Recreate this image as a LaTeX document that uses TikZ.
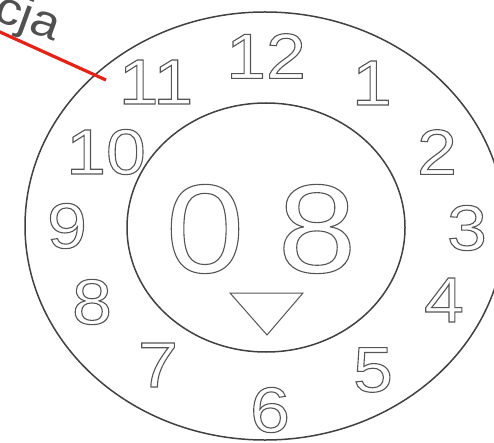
\documentclass[tikz,border=0pt]{standalone}
\usepackage{xcolor}
\usepackage{fontspec}
\usepackage{tikz}
\usetikzlibrary{positioning, calc}
\newfontfamily\dialfont[FakeStretch=1.12]{Liberation Sans}
\definecolor{dialline}{RGB}{65,65,65}
\definecolor{dialdigit}{RGB}{85,85,85}
\definecolor{labelgray}{RGB}{80,80,80}
\definecolor{leaderred}{RGB}{228,34,22}
\newcommand{\hollow}[1]{\special{pdf:literal direct 1 Tr 1.1 w}#1\special{pdf:literal direct 0 Tr}}
\tikzset{
  rim/.style={draw=dialline, line width=1.5pt},
  hour/.style={inner sep=0pt, color=dialdigit,
    font=\dialfont\fontsize{64}{64}\selectfont},
  bigdigit/.style={inner sep=0pt, color=dialdigit,
    font=\dialfont\fontsize{126}{126}\selectfont},
  marker/.style={draw=dialdigit, line width=1pt, line join=miter},
  leader/.style={line width=3.2pt, color=leaderred},
  callout/.style={inner sep=0pt, color=labelgray, rotate=-20,
    font=\dialfont\fontsize{46}{46}\selectfont}
}

\begin{document}
\begin{tikzpicture}[x=1pt, y=-1pt]
  \useasboundingbox (0,0) rectangle (494,443);
  \clip (0,0) rectangle (494,443);

  % Outer and inner rims of the dial
  \draw[rim] (265,226) ellipse [x radius=240, y radius=214];
  \draw[rim] (266,227.5) ellipse [x radius=139, y radius=124.5];

  % Hour numbers round the rim
  \foreach \num/\px/\py in {12/266/56, 1/372/83, 2/437/152, 3/467/228,
      4/444/300, 5/373/370, 6/270/410, 7/158/365, 8/92/302,
      9/67/226, 10/106/152, 11/156/82}
    \node[hour] (h\num) at (\px,\py) {\hollow{\num}};

  % Day window
  \node[bigdigit] (dtens) at (205,229) {\hollow{0}};
  \node[bigdigit] (dunits) at (317,229) {\hollow{8}};

  % Pointer mark
  \draw[marker] (230,293) -- (303,293) -- (267,335) -- cycle;

  % Callout
  \node[callout, anchor=base west] (cjalbl) at (-8,19) {cja};
  \coordinate (lead0) at (-10,27.5);
  \coordinate (lead1) at (106,80);
  \draw[leader] (lead0) -- (lead1);
\end{tikzpicture}
\end{document}
